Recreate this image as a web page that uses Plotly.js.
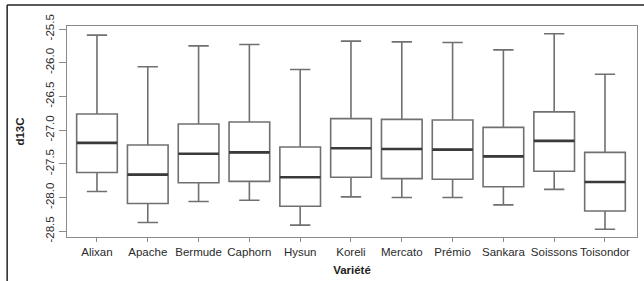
<!DOCTYPE html>
<html><head><meta charset="utf-8">
<script src="https://cdn.plot.ly/plotly-3.0.1.min.js"></script>
<style>html,body{margin:0;padding:0;background:#fff}#chart{width:644px;height:281px}</style>
</head><body><div id="chart"></div>
<script>
const varietes = ["Alixan","Apache","Bermude","Caphorn","Hysun","Koreli","Mercato","Prémio","Sankara","Soissons","Toisondor"];
const lowerWhisker = [-27.91,-28.37,-28.06,-28.04,-28.41,-27.99,-28.00,-28.00,-28.11,-27.88,-28.47];
const q1Values     = [-27.63,-28.09,-27.78,-27.76,-28.13,-27.70,-27.72,-27.73,-27.84,-27.61,-28.20];
const medianValues = [-27.19,-27.66,-27.35,-27.33,-27.70,-27.27,-27.28,-27.29,-27.39,-27.16,-27.77];
const q3Values     = [-26.76,-27.22,-26.91,-26.88,-27.25,-26.83,-26.84,-26.85,-26.96,-26.73,-27.33];
const upperWhisker = [-25.59,-26.06,-25.75,-25.73,-26.10,-25.68,-25.69,-25.70,-25.81,-25.57,-26.17];
const yTickVals = [-28.5,-28.0,-27.5,-27.0,-26.5,-26.0,-25.5];
const yTickText = ["-28.5","-28.0","-27.5","-27.0","-26.5","-26.0","-25.5"];

const FONT = "'Liberation Sans Narrow', 'Liberation Sans', Arial, sans-serif";

const boxes = {
  type: 'box', x: varietes, q1: q1Values, median: medianValues, q3: q3Values,
  lowerfence: lowerWhisker, upperfence: upperWhisker,
  width: 0.8, whiskerwidth: 0.5,
  fillcolor: 'rgba(255,255,255,0)', line: {color: '#707070', width: 1.6},
  boxpoints: false, hoverinfo: 'skip', showlegend: false
};
const medians = {
  type: 'box', x: varietes, q1: medianValues, median: medianValues, q3: medianValues,
  lowerfence: medianValues, upperfence: medianValues,
  width: 0.8, whiskerwidth: 0,
  fillcolor: 'rgba(0,0,0,0)', line: {color: '#3a3a3a', width: 2.6},
  boxpoints: false, hoverinfo: 'skip', showlegend: false
};

const layout = {
  width: 644, height: 281,
  margin: {l: 67, r: 7, t: 26, b: 44},
  paper_bgcolor: '#fff', plot_bgcolor: '#fff',
  boxmode: 'overlay',
  font: {family: FONT, size: 11, color: '#222'},
  xaxis: {
    type: 'category', range: [-0.59, 10.63],
    showgrid: false, zeroline: false,
    showline: true, mirror: true, linecolor: '#8a8a8a', linewidth: 1.3,
    ticks: 'outside', ticklen: 4, tickcolor: '#8a8a8a',
    tickfont: {family: FONT, size: 11.5, color: '#2a2a2a'},
    title: {text: '<b>Variété</b>', font: {family: FONT, size: 11.5, color: '#222'}, standoff: 9}
  },
  yaxis: {
    range: [-28.586, -25.455],
    tickvals: yTickVals, ticktext: yTickText, tickangle: -90,
    showgrid: false, zeroline: false,
    showline: true, mirror: true, linecolor: '#8a8a8a', linewidth: 1.3,
    ticks: 'outside', ticklen: 7, tickcolor: '#8a8a8a',
    tickfont: {family: FONT, size: 11.5, color: '#2a2a2a'},
    title: {text: '<b>d13C</b>', font: {family: FONT, size: 11.5, color: '#222'}, standoff: 17}
  },
  shapes: [
    {type: 'line', xref: 'paper', yref: 'paper', x0: -0.105, x1: 1.02, y0: 1.0995, y1: 1.0995, line: {color: '#222', width: 1.5}},
    {type: 'line', xref: 'paper', yref: 'paper', x0: -0.105, x1: -0.105, y0: 1.0995, y1: -0.25, line: {color: '#222', width: 1.5}}
  ]
};
Plotly.newPlot('chart', [boxes, medians], layout, {displayModeBar: false, staticPlot: true});
</script></body></html>
